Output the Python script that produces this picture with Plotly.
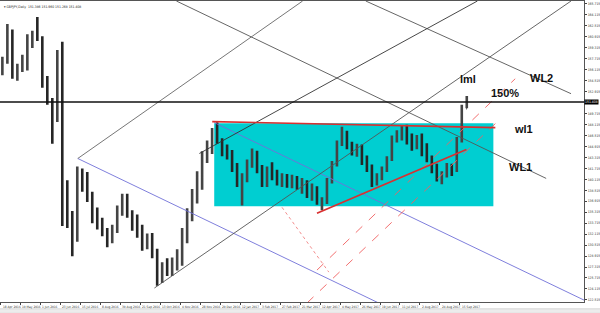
import plotly.graph_objects as go

# ---------------- data ----------------
# GBPJPY daily, grouped candles of 4 trading days; x = trading-day index from 18 Apr 2016
opens = [157.0, 157.3, 161.5, 155.5, 156.5, 156.5, 160.8, 161.0, 160.8, 154.3,
         151.8, 149.0, 159.5, 139.5, 134.5, 131.5, 140.5, 139.5, 137.3, 134.8,
         133.3, 132.3, 131.0, 132.8, 135.5, 137.6, 135.0, 133.2, 132.3, 130.5,
         131.0, 129.2, 126.6, 127.4, 126.7, 128.1, 129.1, 131.7, 135.2, 137.6,
         140.6, 143.6, 145.0, 147.0, 145.9, 144.0, 143.5, 142.0, 139.6, 140.4,
         142.3, 143.8, 141.5, 139.7, 141.3, 140.6, 139.6, 140.4, 139.4, 140.0,
         139.0, 139.5, 137.8, 138.8, 136.8, 136.9, 139.8, 142.3, 145.2, 146.8,
         145.0, 144.0, 144.9, 142.8, 141.6, 139.5, 140.5, 141.6, 143.0, 146.0,
         146.8, 147.3, 145.8, 145.6, 146.2, 144.0, 143.0, 141.4, 140.4, 140.9,
         141.9, 141.5, 145.8, 150.5]
highs = [158.0, 162.8, 162.0, 157.0, 158.3, 161.3, 161.8, 163.8, 161.0, 155.2,
         152.0, 159.0, 160.2, 140.0, 135.5, 142.0, 141.7, 141.2, 138.3, 136.0,
         134.5, 133.0, 133.5, 136.3, 138.0, 138.0, 135.6, 135.0, 133.5, 132.2,
         132.3, 130.0, 128.0, 128.6, 128.7, 129.9, 133.0, 135.9, 138.7, 141.3,
         144.2, 145.8, 147.6, 148.45, 146.1, 145.2, 144.4, 142.5, 141.0, 143.0,
         144.6, 144.3, 142.2, 142.0, 142.6, 141.5, 141.0, 140.9, 140.8, 140.6,
         140.3, 140.0, 139.5, 139.1, 137.5, 140.3, 142.8, 145.8, 147.8, 147.2,
         145.6, 145.3, 145.2, 143.6, 142.3, 141.0, 142.0, 143.5, 146.5, 147.3,
         148.0, 148.1, 146.8, 146.6, 146.8, 145.4, 143.6, 142.4, 141.3, 142.5,
         142.4, 146.3, 151.0, 152.3]
lows = [155.3, 157.0, 154.8, 154.5, 155.8, 156.0, 159.3, 160.3, 153.5, 151.0,
        145.3, 148.5, 133.3, 133.0, 128.9, 131.0, 138.3, 136.8, 133.7, 132.8,
        131.8, 130.2, 130.8, 132.3, 134.8, 134.5, 132.6, 131.6, 129.7, 129.9,
        128.6, 124.6, 125.0, 126.0, 126.0, 126.8, 127.5, 130.8, 134.0, 136.6,
        138.6, 142.5, 143.8, 145.3, 143.5, 143.0, 141.2, 139.0, 136.3, 139.7,
        141.8, 141.0, 139.0, 139.0, 140.0, 139.2, 139.0, 138.9, 138.8, 138.6,
        138.0, 137.4, 137.0, 136.4, 135.6, 136.5, 139.5, 142.0, 145.0, 144.5,
        143.6, 143.4, 142.2, 141.2, 139.0, 139.2, 140.0, 141.2, 142.8, 145.5,
        145.8, 145.2, 144.3, 144.5, 143.5, 142.6, 141.0, 139.8, 139.4, 140.4,
        140.6, 141.2, 145.5, 150.5]
closes = [157.3, 161.5, 155.5, 156.5, 156.5, 160.8, 161.0, 160.8, 154.3, 151.8,
          149.0, 158.5, 139.5, 134.5, 131.5, 140.5, 139.5, 137.3, 134.8, 133.3,
          132.3, 131.0, 132.8, 135.5, 137.6, 135.0, 133.2, 132.3, 130.5, 131.0,
          129.2, 126.6, 127.4, 126.7, 128.1, 129.1, 131.7, 135.2, 137.6, 140.6,
          143.6, 145.0, 147.0, 145.9, 144.0, 143.5, 142.0, 139.6, 140.4, 142.3,
          143.8, 141.5, 139.7, 141.3, 140.6, 139.6, 140.4, 139.4, 140.0, 139.0,
          139.5, 137.8, 138.8, 136.8, 136.9, 139.8, 142.3, 145.2, 146.8, 145.0,
          144.0, 144.9, 142.8, 141.6, 139.5, 140.5, 141.6, 143.0, 146.0, 146.8,
          147.3, 145.8, 145.6, 146.2, 144.0, 143.0, 141.4, 140.4, 140.9, 141.9,
          141.5, 145.8, 150.5, 151.4]
bars_per_candle = 4

date_labels = ["18 Apr 2016", "10 May 2016", "1 Jun 2016", "23 Jun 2016", "15 Jul 2016",
               "8 Aug 2016", "30 Aug 2016", "21 Sep 2016", "13 Oct 2016", "4 Nov 2016",
               "28 Nov 2016", "20 Dec 2016", "12 Jan 2017", "3 Feb 2017", "27 Feb 2017",
               "21 Mar 2017", "12 Apr 2017", "4 May 2017", "26 May 2017", "19 Jun 2017",
               "11 Jul 2017", "2 Aug 2017", "24 Aug 2017", "15 Sep 2017"]
date_bars = [0, 16, 32, 48, 64, 80, 96, 112, 128, 144, 160, 176, 192, 208, 224,
             240, 256, 272, 288, 304, 320, 336, 352, 368]

price_ticks = [165.715, 164.115, 162.515, 160.915, 159.315, 157.715, 156.115, 154.515,
               152.915, 149.715, 148.115, 146.515, 144.915, 143.315, 141.715, 140.115,
               138.515, 136.915, 135.315, 133.715, 132.115, 130.515, 128.915, 127.315,
               125.715, 124.115, 122.515]
last_price = 151.408
header = "GBPJPY,Daily  151.386 151.960 151.268 151.408"

# drawing objects: anchor points (trading-day index, price)
obj_blue1 = ([61.9, 318.9], [143.16, 120.67])
obj_blue2 = ([171.2, 478.6], [148.40, 121.51])
obj_wl1 = ([140.9, 437.1], [166.15, 140.25])
obj_wl2 = ([292.6, 457.0], [166.15, 152.62])
obj_fork_up = ([61.9, 242.0], [143.16, 166.15])
obj_fork_lo = ([123.3, 457.0], [124.25, 166.15])
obj_fork_mid = ([159.3, 382.0], [143.89, 166.15])
obj_red_top = ([169.6, 396.4], [148.54, 147.67])
obj_red_sup = ([253.5, 373.2], [135.16, 144.47])
obj_red_d1 = ([253.5, 412.3], [126.87, 154.80])
obj_red_d2 = ([245.5, 396.4], [122.06, 148.25])
obj_red_x = ([225.5, 263.0], [136.03, 126.57])
zone_bars = [171.2, 394.8]
zone_prices = [136.18, 148.30]

labels = [("lml", 374.8, 154.80), ("WL2", 433.1, 154.95), ("150%", 404.3, 152.76),
          ("wl1", 418.7, 147.53), ("WL1", 416.3, 141.85)]

# ---------------- figure ----------------
X_RANGE = [-0.4, 467.4]
Y_RANGE = [122.21, 166.15]
SMALL = "Liberation Sans Narrow, DejaVu Sans Condensed, Liberation Sans, Arial"

candle_x = [bars_per_candle * k + 1.5 for k in range(len(closes))]

fig = go.Figure()

fig.add_shape(type="rect", xref="x", yref="y", x0=zone_bars[0], x1=zone_bars[1],
              y0=zone_prices[0], y1=zone_prices[1], fillcolor="#00CED1",
              line=dict(width=0), layer="below")


def add_line(obj, color, width=1.0, dash="solid"):
    fig.add_trace(go.Scatter(x=obj[0], y=obj[1], mode="lines",
                             line=dict(color=color, width=width, dash=dash),
                             hoverinfo="skip", showlegend=False))


add_line(obj_blue1, "#7070d8", 0.9)
add_line(obj_blue2, "#7070d8", 0.9)
add_line(obj_wl1, "#555555", 0.9)
add_line(obj_wl2, "#555555", 0.9)
add_line(obj_fork_up, "#666666", 0.9)
add_line(obj_fork_lo, "#555555", 0.9)
add_line(obj_fork_mid, "#333333", 0.9)
add_line(obj_red_x, "#f08080", 0.9, "dot")
add_line(obj_red_d1, "#f06060", 0.9, "dash")
add_line(obj_red_d2, "#f06060", 0.9, "dash")

fig.add_trace(go.Ohlc(
    x=candle_x, open=opens, high=highs, low=lows, close=closes,
    increasing=dict(line=dict(color="#444444", width=2.6)),
    decreasing=dict(line=dict(color="#262626", width=2.6)),
    tickwidth=0.15, showlegend=False, hoverinfo="skip"))

add_line(obj_red_top, "#d93030", 1.6)
add_line(obj_red_sup, "#d93030", 1.8)

fig.add_shape(type="line", xref="paper", yref="y", x0=0, x1=1,
              y0=last_price, y1=last_price, line=dict(color="#111111", width=1.5))

for txt, bx, py in labels:
    fig.add_annotation(x=bx, y=py, text="<b>%s</b>" % txt, showarrow=False,
                       font=dict(family="Liberation Sans, Arial", size=11, color="#111111"))

for txt, b in zip(date_labels, date_bars):
    fig.add_annotation(x=b, y=0, yref="paper", text=txt, showarrow=False,
                       xanchor="left", yanchor="top", yshift=-1, xshift=0,
                       font=dict(family=SMALL, size=3.2, color="#333333"))

fig.add_annotation(x=1, xref="paper", y=last_price, text="%.3f" % last_price,
                   showarrow=False, xanchor="left", bgcolor="#000000", borderpad=0,
                   font=dict(family=SMALL, size=3.4, color="#ffffff"))

fig.add_annotation(x=0.004, xref="paper", y=0.995, yref="paper", text="\u25be " + header,
                   showarrow=False, xanchor="left", yanchor="top",
                   font=dict(family=SMALL, size=3.4, color="#222222"))

# bottom tab strip
fig.add_shape(type="rect", xref="paper", yref="paper", x0=-0.01, x1=1.05,
              y0=-0.0375, y1=-0.0225, fillcolor="#ececec", line=dict(color="#bbbbbb", width=0.5))

fig.update_layout(
    width=600, height=313,
    margin=dict(l=0, r=14, t=0, b=11),
    paper_bgcolor="#ffffff", plot_bgcolor="#ffffff",
    showlegend=False,
    xaxis=dict(range=X_RANGE, rangeslider=dict(visible=False), showgrid=False,
               zeroline=False, tickvals=date_bars, showticklabels=False,
               ticks="outside", ticklen=2, tickcolor="#444444",
               showline=True, linecolor="#555555", linewidth=1, mirror=True),
    yaxis=dict(range=Y_RANGE, side="right", showgrid=False, zeroline=False,
               tickvals=price_ticks, ticktext=["%.3f" % v for v in price_ticks],
               tickfont=dict(family=SMALL, size=3.4, color="#333333"),
               ticks="outside", ticklen=2, tickcolor="#444444",
               showline=True, linecolor="#555555", linewidth=1),
)

fig.write_html("out.html")
